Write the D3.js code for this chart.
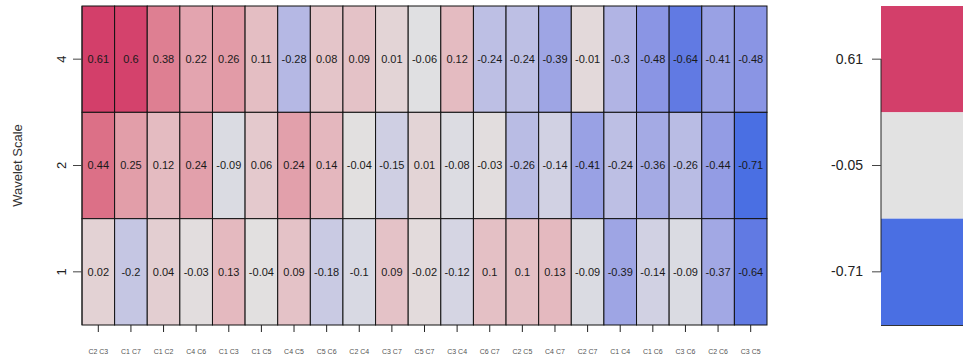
<!DOCTYPE html>
<html>
<head>
<meta charset="utf-8">
<script src="https://cdn.jsdelivr.net/npm/d3@7"></script>
<style>
  html, body { margin: 0; padding: 0; background: #fff; }
  svg { display: block; font-family: "Liberation Sans", Arial, sans-serif; }
</style>
</head>
<body>
<svg id="chart" width="963" height="362"></svg>
<script>
const pairs = ["C2 C3","C1 C7","C1 C2","C4 C6","C1 C3","C1 C5","C4 C5","C5 C6","C2 C4","C3 C7","C5 C7","C3 C4","C6 C7","C2 C5","C4 C7","C2 C7","C1 C4","C1 C6","C3 C6","C2 C6","C3 C5"];
const scales = ["4","2","1"];
const scale4 = [0.61,0.6,0.38,0.22,0.26,0.11,-0.28,0.08,0.09,0.01,-0.06,0.12,-0.24,-0.24,-0.39,-0.01,-0.3,-0.48,-0.64,-0.41,-0.48];
const scale2 = [0.44,0.25,0.12,0.24,-0.09,0.06,0.24,0.14,-0.04,-0.15,0.01,-0.08,-0.03,-0.26,-0.14,-0.41,-0.24,-0.36,-0.26,-0.44,-0.71];
const scale1 = [0.02,-0.2,0.04,-0.03,0.13,-0.04,0.09,-0.18,-0.1,0.09,-0.02,-0.12,0.1,0.1,0.13,-0.09,-0.39,-0.14,-0.09,-0.37,-0.64];
const legendTicks = [0.61, -0.05, -0.71];
const yTitle = "Wavelet Scale";

const rows = {"4": scale4, "2": scale2, "1": scale1};
const cells = [];
scales.forEach(s => rows[s].forEach((v, i) => cells.push({s, pair: pairs[i], v})));

const svg = d3.select("#chart");
const m = {left: 82, top: 6, right: 767, bottom: 325};

const x = d3.scaleBand().domain(pairs).range([m.left, m.right]);
const y = d3.scaleBand().domain(scales).range([m.top, m.bottom]);

const color = d3.scaleLinear()
  .domain([-0.71, -0.05, 0.61])
  .range(["#4A6FE3", "#E2E2E2", "#D33F6A"])
  .interpolate(d3.interpolateLab)
  .clamp(true);

svg.append("g").selectAll("rect").data(cells).join("rect")
  .attr("x", d => x(d.pair))
  .attr("y", d => y(d.s))
  .attr("width", x.bandwidth())
  .attr("height", y.bandwidth())
  .attr("fill", d => color(d.v))
  .attr("stroke", "#111")
  .attr("stroke-width", 1);

svg.append("g").selectAll("text").data(cells).join("text")
  .attr("x", d => x(d.pair) + x.bandwidth() / 2)
  .attr("y", d => y(d.s) + y.bandwidth() / 2)
  .attr("dy", "0.35em")
  .attr("text-anchor", "middle")
  .attr("font-size", 11)
  .attr("fill", "#1a1a1a")
  .text(d => String(d.v));

// x axis
const xAxis = svg.append("g")
  .attr("transform", `translate(0,${m.bottom})`)
  .call(d3.axisBottom(x).tickSize(7).tickSizeOuter(0).tickPadding(17));
xAxis.select(".domain").remove();
xAxis.selectAll("line").attr("stroke", "#222");
xAxis.selectAll("text").attr("font-size", 7).attr("fill", "#555")
  .attr("font-family", "Liberation Sans, Arial, sans-serif");

// y axis
const yAxis = svg.append("g")
  .attr("transform", `translate(${m.left},0)`)
  .call(d3.axisLeft(y).tickSize(9).tickSizeOuter(0).tickPadding(0));
yAxis.select(".domain").attr("stroke", "#222").attr("d", `M0,${m.top}V${m.bottom}`);
yAxis.selectAll("line").attr("stroke", "#444");
yAxis.selectAll("text").remove();
yAxis.selectAll(".tick").append("text")
  .attr("transform", "translate(-21,0) rotate(-90)")
  .attr("text-anchor", "middle")
  .attr("dy", "0.35em")
  .attr("font-size", 13)
  .attr("fill", "#222")
  .attr("font-family", "Liberation Sans, Arial, sans-serif")
  .text(d => d);

svg.append("text")
  .attr("transform", `translate(22,${(m.top + m.bottom) / 2}) rotate(-90)`)
  .attr("text-anchor", "middle")
  .attr("font-size", 13)
  .attr("fill", "#333")
  .text(yTitle);

// legend
const lx = 881;
const ly = d3.scaleBand().domain(legendTicks.map(String)).range([m.top, m.bottom]);
svg.append("g").selectAll("rect").data(legendTicks).join("rect")
  .attr("x", lx)
  .attr("y", d => ly(String(d)))
  .attr("width", 90)
  .attr("height", ly.bandwidth())
  .attr("fill", d => color(d));
svg.append("line")
  .attr("x1", lx).attr("x2", 963)
  .attr("y1", m.bottom + 0.5).attr("y2", m.bottom + 0.5)
  .attr("stroke", "#333");
const lAxis = svg.append("g")
  .attr("transform", `translate(${lx},0)`)
  .call(d3.axisLeft(ly).tickSize(9).tickSizeOuter(0).tickPadding(9));
lAxis.select(".domain").attr("stroke", "#222")
  .attr("d", `M0,${ly("0.61") + ly.bandwidth() / 2}V${ly("-0.71") + ly.bandwidth() / 2}`);
lAxis.selectAll("line").attr("stroke", "#444");
lAxis.selectAll("text").attr("font-size", 14).attr("fill", "#222")
  .attr("font-family", "Liberation Sans, Arial, sans-serif");
</script>
</body>
</html>
